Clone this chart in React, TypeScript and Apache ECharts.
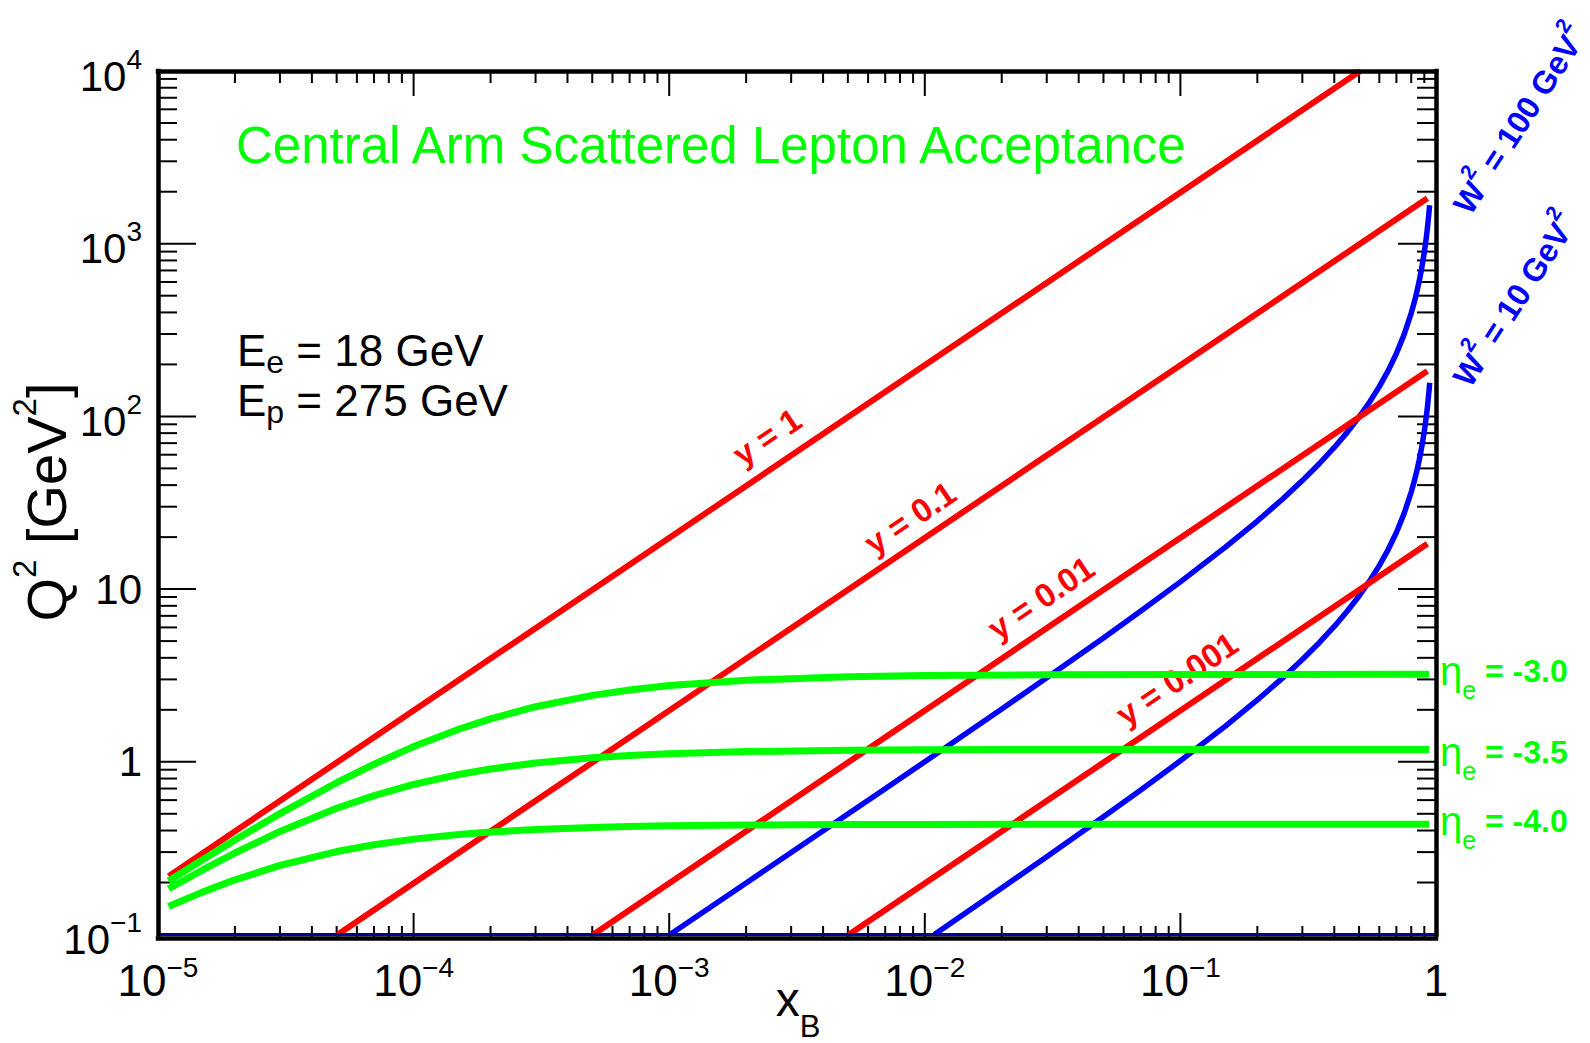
import React, { useEffect, useRef } from 'react';
import * as echarts from 'echarts';

const FONT = 'Liberation Sans, Arial, Helvetica, sans-serif';

// ---- axis ranges and tick positions ----
const xRange = [1e-5, 1];
const yRange = [1e-1, 1e4];
const xMajorInner = [1e-4, 1e-3, 1e-2, 1e-1];
const yMajorInner = [1, 10, 100, 1000];
const xDecades = [1e-5, 1e-4, 1e-3, 1e-2, 1e-1];
const yDecades = [1e-1, 1, 10, 100, 1000];
const minorSteps = [2, 3, 4, 5, 6, 7, 8, 9];

// ---- constant inelasticity lines (x_B, Q^2) ----
const lineY1 = [[1.1e-5, 0.2178], [0.505, 1e4]];
const lineY01 = [[5.05e-5, 0.1], [0.925, 1832]];
const lineY001 = [[5.05e-4, 0.1], [0.925, 183.2]];
const lineY0001 = [[5.05e-3, 0.1], [0.925, 18.32]];

// ---- constant W^2 curves ----
const lineW100 = [
  [1.008e-3, 0.1], [2e-3, 0.1986], [3e-3, 0.2983], [5e-3, 0.498], [7e-3, 0.6987], [1e-2, 1.001],
  [2e-2, 2.023], [3e-2, 3.066], [5e-2, 5.217], [7e-2, 7.461], [0.1, 11.01], [0.15, 17.49],
  [0.2, 24.78], [0.25, 33.04], [0.3, 42.48], [0.35, 53.37], [0.4, 66.08], [0.45, 81.1],
  [0.5, 99.12], [0.55, 121.1], [0.6, 148.7], [0.65, 184.1], [0.7, 231.3], [0.75, 297.4],
  [0.8, 396.5], [0.82, 451.5], [0.84, 520.4], [0.86, 608.9], [0.88, 726.9], [0.9, 892.1],
  [0.91, 1002], [0.92, 1140], [0.93, 1317], [0.94, 1553], [0.944, 1671],
];
const lineW10 = [
  [0.0109, 0.1], [0.02, 0.1861], [0.03, 0.2821], [0.05, 0.48], [0.07, 0.6865], [0.1, 1.013],
  [0.15, 1.609], [0.2, 2.28], [0.25, 3.04], [0.3, 3.909], [0.35, 4.911], [0.4, 6.08],
  [0.45, 7.462], [0.5, 9.12], [0.55, 11.15], [0.6, 13.68], [0.65, 16.94], [0.7, 21.28],
  [0.75, 27.36], [0.8, 36.48], [0.82, 41.55], [0.84, 47.88], [0.86, 56.02], [0.88, 66.88],
  [0.9, 82.08], [0.91, 92.21], [0.92, 104.9], [0.93, 121.2], [0.94, 142.9], [0.945, 156.7],
];

// ---- electron pseudorapidity acceptance curves ----
const etaX = [1.1e-5, 1.5e-5, 2e-5, 3e-5, 5e-5, 7e-5, 1e-4, 1.5e-4, 2e-4, 3e-4, 5e-4, 7e-4,
  1e-3, 2e-3, 5e-3, 1e-2, 3e-2, 0.1, 0.94];
const etaM30 = [0.204, 0.2719, 0.3525, 0.5013, 0.7567, 0.968, 1.2247, 1.5427, 1.7729, 2.084,
  2.424, 2.606, 2.762, 2.969, 3.109, 3.159, 3.193, 3.205, 3.209];
const etaM35 = [0.1839, 0.2373, 0.2965, 0.3951, 0.5383, 0.6374, 0.7394, 0.8445, 0.9091, 0.9844,
  1.0543, 1.0874, 1.1136, 1.1459, 1.1661, 1.173, 1.1777, 1.1793, 1.1799];
const etaM40 = [0.1451, 0.1765, 0.2073, 0.2511, 0.3022, 0.3311, 0.3566, 0.3794, 0.3919, 0.4053,
  0.4167, 0.4218, 0.4257, 0.4303, 0.4331, 0.434, 0.4347, 0.4349, 0.435];

const titleText = 'Central Arm Scattered Lepton Acceptance';
const yLineLabels = ['y = 1', 'y = 0.1', 'y = 0.01', 'y = 0.001'];
const wValues = ['100', '10'];
const etaLabels = ['-3.0', '-3.5', '-4.0'];

const RED = '#ff0000';
const BLUE = '#0000ff';
const GREEN = '#00ff00';

function pow10Label(v: number): string {
  const e = Math.round(Math.log10(v));
  if (e === 0) return '{b|1}';
  if (e === 1) return '{b|10}';
  return `{b|10}{s|${e < 0 ? '\u2212' + -e : e}}`;
}
function pow10LabelY(v: number): string {
  const e = Math.round(Math.log10(v));
  if (e === 0) return '{p|1}';
  if (e === 1) return '{p|10}';
  return `{b|10}{s|${e < 0 ? '\u2212' + -e : e}}`;
}

function buildOption() {
  const xTicks: number[][] = [];
  xMajorInner.forEach((v) => xTicks.push([v, 1, 25]));
  xDecades.forEach((d) => minorSteps.forEach((m) => xTicks.push([d * m, 1, 12])));
  const yTicks: number[][] = [];
  yMajorInner.forEach((v) => yTicks.push([1e-3, v, 38]));
  yDecades.forEach((d) => minorSteps.forEach((m) => yTicks.push([1e-3, d * m, 19])));

  const line = (name: string, data: number[][], color: string, width: number, z: number) => ({
    type: 'line',
    name,
    data,
    symbol: 'none',
    showSymbol: false,
    silent: true,
    z,
    lineStyle: { color, width, cap: 'butt', join: 'round' },
    itemStyle: { color },
  });

  const frameLine = { show: true, lineStyle: { color: '#000', width: 4.5, cap: 'square' } };

  const etaSeries = [etaM30, etaM35, etaM40].map((arr, i) =>
    line('eta' + etaLabels[i], etaX.map((x, k) => [x, arr[k]]), GREEN, 7, 4)
  );

  const w100 = line('W2=100', lineW100, BLUE, 5.5, 2) as any;
  w100.markLine = {
    silent: true,
    symbol: 'none',
    label: { show: false },
    lineStyle: { color: '#000090', width: 3, type: 'solid' },
    data: [{ yAxis: 0.1 }],
  };

  const redLabelPos = [[767, 437], [910, 518], [1041, 598], [1177, 679]];
  const wLabelPos = [[1516, 117], [1511, 297]];
  const etaLabelY = [671, 752, 821];

  const graphics: any[] = [
    {
      type: 'text', x: 236, y: 145, z: 10,
      style: { text: titleText, fontSize: 51, fontFamily: FONT, fill: GREEN, align: 'left', verticalAlign: 'middle' },
    },
    {
      type: 'text', x: 237, y: 328, z: 10,
      style: {
        text: '{b|E}{sub|e}{b| = 18 GeV}', align: 'left', verticalAlign: 'top',
        rich: {
          b: { fontSize: 44, lineHeight: 44, verticalAlign: 'top', fontFamily: FONT, fill: '#000' },
          sub: { fontSize: 32, lineHeight: 50, verticalAlign: 'bottom', fontFamily: FONT, fill: '#000' },
        },
      },
    },
    {
      type: 'text', x: 237, y: 378, z: 10,
      style: {
        text: '{b|E}{sub|p}{b| = 275 GeV}', align: 'left', verticalAlign: 'top',
        rich: {
          b: { fontSize: 44, lineHeight: 44, verticalAlign: 'top', fontFamily: FONT, fill: '#000' },
          sub: { fontSize: 32, lineHeight: 50, verticalAlign: 'bottom', fontFamily: FONT, fill: '#000' },
        },
      },
    },
    {
      type: 'text', x: 41, y: 502, rotation: Math.PI / 2, z: 10,
      style: {
        text: '{b|Q}{s|2}{b| [GeV}{s|2}{b|]}', align: 'center', verticalAlign: 'middle',
        rich: {
          b: { fontSize: 56, lineHeight: 66, verticalAlign: 'bottom', fontFamily: FONT, fill: '#000' },
          s: { fontSize: 33, verticalAlign: 'top', fontFamily: FONT, fill: '#000' },
        },
      },
    },
    {
      type: 'text', x: 798, y: 975, z: 10,
      style: {
        text: '{b|x}{sub|B}', align: 'center', verticalAlign: 'top',
        rich: {
          b: { fontSize: 48, lineHeight: 48, verticalAlign: 'top', fontFamily: FONT, fill: '#000' },
          sub: { fontSize: 31, lineHeight: 67, verticalAlign: 'bottom', fontFamily: FONT, fill: '#000' },
        },
      },
    },
  ];
  yLineLabels.forEach((t, i) => {
    graphics.push({
      type: 'text', x: redLabelPos[i][0], y: redLabelPos[i][1], rotation: (34.1 * Math.PI) / 180, z: 3,
      style: { text: t, fontSize: 33, fontWeight: 'bold', fontFamily: FONT, fill: RED, align: 'center', verticalAlign: 'middle' },
    });
  });
  wValues.forEach((t, i) => {
    graphics.push({
      type: 'text', x: wLabelPos[i][0], y: wLabelPos[i][1], rotation: (57 * Math.PI) / 180, z: 10,
      style: {
        text: `{b|W}{s|2}{b| = ${t} GeV}{s|2}`, align: 'center', verticalAlign: 'middle',
        rich: {
          b: { fontSize: 32, lineHeight: 42, fontWeight: 'bold', verticalAlign: 'bottom', fontFamily: FONT, fill: BLUE },
          s: { fontSize: 21, fontWeight: 'bold', verticalAlign: 'top', fontFamily: FONT, fill: BLUE },
        },
      },
    });
  });
  etaLabels.forEach((t, i) => {
    graphics.push({
      type: 'text', x: 1440, y: etaLabelY[i], z: 10,
      style: {
        text: `{eta|\u03b7}{sub|e}{b| = ${t}}`, align: 'left', verticalAlign: 'middle',
        rich: {
          eta: { fontSize: 40, verticalAlign: 'middle', fontFamily: FONT, fill: GREEN },
          sub: { fontSize: 25, lineHeight: 62, verticalAlign: 'bottom', fontFamily: FONT, fill: GREEN },
          b: { fontSize: 32, fontWeight: 'bold', verticalAlign: 'middle', fontFamily: FONT, fill: GREEN },
        },
      },
    });
  });

  return {
    animation: false,
    backgroundColor: '#ffffff',
    grid: { left: 158, right: 154, top: 71, bottom: 108.5, containLabel: false },
    xAxis: [
      {
        type: 'log', logBase: 10, min: xRange[0], max: xRange[1], position: 'bottom', offset: 3.5, z: 5,
        axisLine: frameLine, axisTick: { show: false }, splitLine: { show: false },
        axisLabel: {
          show: true, margin: 15, formatter: pow10Label, showMinLabel: true, showMaxLabel: true,
          rich: {
            b: { fontSize: 44, lineHeight: 49, verticalAlign: 'bottom', fontFamily: FONT, color: '#000' },
            s: { fontSize: 28, verticalAlign: 'top', fontFamily: FONT, color: '#000' },
          },
        },
      },
      {
        type: 'log', logBase: 10, min: xRange[0], max: xRange[1], position: 'top', z: 5,
        axisLine: frameLine, axisTick: { show: false }, splitLine: { show: false }, axisLabel: { show: false },
      },
    ],
    yAxis: [
      {
        type: 'log', logBase: 10, min: yRange[0], max: yRange[1], position: 'left', z: 5,
        axisLine: frameLine, axisTick: { show: false }, splitLine: { show: false },
        axisLabel: {
          show: true, margin: 16, formatter: pow10LabelY, showMinLabel: true, showMaxLabel: true,
          rich: {
            p: { fontSize: 42, lineHeight: 42, fontFamily: FONT, color: '#000' },
            b: { fontSize: 42, lineHeight: 52, verticalAlign: 'bottom', fontFamily: FONT, color: '#000' },
            s: { fontSize: 28, verticalAlign: 'top', fontFamily: FONT, color: '#000' },
          },
        },
      },
      {
        type: 'log', logBase: 10, min: yRange[0], max: yRange[1], position: 'right', z: 5,
        axisLine: frameLine, axisTick: { show: false }, splitLine: { show: false }, axisLabel: { show: false },
      },
    ],
    graphic: graphics,
    series: [
      {
        type: 'custom', name: 'xticks', data: xTicks, z: 1, silent: true, clip: false,
        encode: { x: 0, y: 1 },
        renderItem: (params: any, api: any) => {
          const px = api.coord([api.value(0), api.value(1)])[0];
          const len = api.value(2);
          const cs = params.coordSys;
          const yb = cs.y + cs.height + 3.5;
          const st = { stroke: '#000', lineWidth: 2 };
          return {
            type: 'group',
            children: [
              { type: 'line', shape: { x1: px, y1: yb, x2: px, y2: yb - len }, style: st },
              { type: 'line', shape: { x1: px, y1: cs.y, x2: px, y2: cs.y + len }, style: st },
            ],
          };
        },
      },
      {
        type: 'custom', name: 'yticks', data: yTicks, z: 1, silent: true, clip: false,
        encode: { x: 0, y: 1 },
        renderItem: (params: any, api: any) => {
          const py = api.coord([api.value(0), api.value(1)])[1];
          const len = api.value(2);
          const cs = params.coordSys;
          const st = { stroke: '#000', lineWidth: 2 };
          return {
            type: 'group',
            children: [
              { type: 'line', shape: { x1: cs.x, y1: py, x2: cs.x + len, y2: py }, style: st },
              { type: 'line', shape: { x1: cs.x + cs.width, y1: py, x2: cs.x + cs.width - len, y2: py }, style: st },
            ],
          };
        },
      },
      w100,
      line('W2=10', lineW10, BLUE, 5.5, 2),
      line('y=1', lineY1, RED, 6, 2),
      line('y=0.1', lineY01, RED, 6, 2),
      line('y=0.01', lineY001, RED, 6, 2),
      line('y=0.001', lineY0001, RED, 6, 2),
      ...etaSeries,
    ],
  };
}

export default function App() {
  const ref = useRef<HTMLDivElement>(null);
  useEffect(() => {
    if (!ref.current) return;
    const chart = echarts.init(ref.current, undefined, { renderer: 'svg' });
    chart.setOption(buildOption() as any);
    return () => chart.dispose();
  }, []);
  return (
    <div
      ref={ref}
      style={{ position: 'fixed', left: 0, top: 0, width: 1590, height: 1043, background: '#fff' }}
    />
  );
}
